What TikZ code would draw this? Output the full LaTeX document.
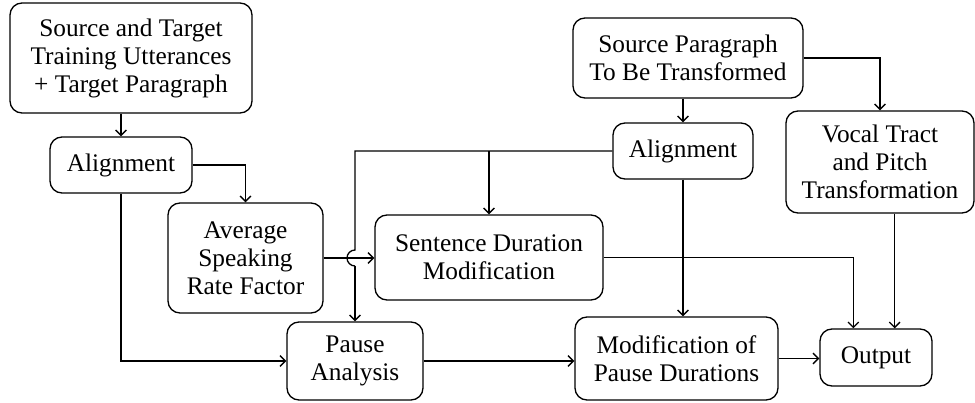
\documentclass[tikz,border=0pt]{standalone}
\usepackage{fontspec}
\IfFontExistsTF{LiberationSerif-Regular.ttf}
  {\newfontfamily\timesfont{LiberationSerif-Regular.ttf}}
  {\newfontfamily\timesfont{Latin Modern Roman}}
\usepackage{tikz}
\usetikzlibrary{arrows.meta}

\begin{document}
\begin{tikzpicture}[x=0.75pt,y=-0.75pt]
\tikzstyle{box}=[rectangle, rounded corners=9pt, draw=black, line width=1pt, align=center, inner sep=2pt, font=\timesfont\fontsize{19}{21}\selectfont]
\tikzstyle{connect}=[-{Straight Barb[length=4pt,width=8pt]}, line width=1pt]
\tikzstyle{plain}=[line width=1pt]
\useasboundingbox (0,0) rectangle (975,403);

\node[box, minimum width=181.5pt, minimum height=82.5pt] (train) at (131,58) {Source and Target\\Training Utterances\\+ Target Paragraph};
\node[box, minimum width=106.5pt, minimum height=42pt] (align1) at (121,165) {Alignment};
\node[box, minimum width=116.25pt, minimum height=82.5pt] (avg) at (245.5,258) {Average\\Speaking\\Rate Factor};
\node[box, minimum width=171pt, minimum height=63.75pt] (sdm) at (489,257.5) {Sentence Duration\\Modification};
\node[box, minimum width=102pt, minimum height=58.5pt] (pause) at (355,361) {Pause\\Analysis};
\node[box, minimum width=172.5pt, minimum height=60pt] (srcpar) at (688,58) {Source Paragraph\\To Be Transformed};
\node[box, minimum width=105pt, minimum height=42pt] (align2) at (683,151) {Alignment};
\node[box, minimum width=141pt, minimum height=76.5pt] (vocal) at (880,162) {Vocal Tract\\and Pitch\\Transformation};
\node[box, minimum width=152.25pt, minimum height=62.25pt] (mpd) at (676.5,358.5) {Modification of\\Pause Durations};
\node[box, minimum width=84pt, minimum height=42.75pt] (output) at (876,357.5) {Output};

\coordinate (out1) at ([xshift=-17pt]output.north);
\coordinate (out2) at ([xshift=14pt]output.north);
\coordinate (hop) at (pause.north |- avg.east);

% left column
\draw[connect] (align1.north |- train.south) -- (align1.north);
\draw[connect] (align1.east) -| (avg.north);
\draw[connect] (align1.south) |- (pause.west);
\draw[connect] (avg.east) -- (avg.east -| sdm.west);

% from second alignment
\draw[plain] (align2.west) -| ([yshift=6pt]hop) arc[start angle=90, end angle=270, radius=6pt];
\draw[connect] ([yshift=-6pt]hop) -- (pause.north);
\draw[connect] (align2.west -| sdm.north) -- (sdm.north);
\draw[connect] (align2.north |- srcpar.south) -- (align2.north);
\draw[connect] (srcpar.east) -| (vocal.north);
\draw[connect] (align2.south) -- (align2.south |- mpd.north);

% to output
\draw[connect] (pause.east) -- (pause.east -| mpd.west);
\draw[connect] (mpd.east) -- (mpd.east -| output.west);
\draw[connect] (sdm.east) -| (out1);
\draw[connect] (vocal.south -| out2) -- (out2);
\end{tikzpicture}
\end{document}
